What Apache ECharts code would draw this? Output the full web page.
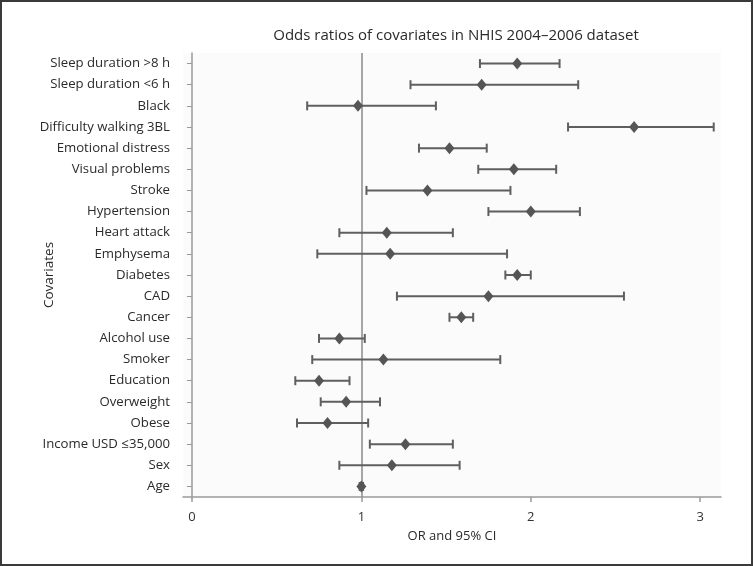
<!DOCTYPE html>
<html>
<head>
<meta charset="utf-8">
<script src="https://cdn.jsdelivr.net/npm/echarts@6/dist/echarts.min.js"></script>
<style>
html,body{margin:0;padding:0;background:#fff;}
#chart{width:753px;height:566px;}
</style>
</head>
<body>
<div id="chart"></div>
<script>
// Covariates, top to bottom
var categories = [
  "Sleep duration >8 h", "Sleep duration <6 h", "Black", "Difficulty walking 3BL",
  "Emotional distress", "Visual problems", "Stroke", "Hypertension", "Heart attack",
  "Emphysema", "Diabetes", "CAD", "Cancer", "Alcohol use", "Smoker", "Education",
  "Overweight", "Obese", "Income USD \u226435,000", "Sex", "Age"
];
var oddsRatio = [1.92, 1.71, 0.98, 2.61, 1.52, 1.90, 1.39, 2.00, 1.15, 1.17, 1.92, 1.75, 1.59, 0.87, 1.13, 0.75, 0.91, 0.80, 1.26, 1.18, 1.00];
var ciLow     = [1.70, 1.29, 0.68, 2.22, 1.34, 1.69, 1.03, 1.75, 0.87, 0.74, 1.85, 1.21, 1.52, 0.75, 0.71, 0.61, 0.76, 0.62, 1.05, 0.87, 0.99];
var ciHigh    = [2.17, 2.28, 1.44, 3.08, 1.74, 2.15, 1.88, 2.29, 1.54, 1.86, 2.00, 2.55, 1.66, 1.02, 1.82, 0.93, 1.11, 1.04, 1.54, 1.58, 1.01];
var xTicks = [0, 1, 2, 3];

var chart = echarts.init(document.getElementById('chart'));
var FONT = 'Open Sans';

var errData = categories.map(function (c, i) { return [i, ciLow[i], ciHigh[i]]; });
var ptData = categories.map(function (c, i) { return [oddsRatio[i], c]; });

chart.setOption({
  animation: false,
  textStyle: { fontFamily: FONT },
  title: {
    text: 'Odds ratios of covariates in NHIS 2004\u20132006 dataset',
    left: 451, top: 23, textAlign: 'center',
    textStyle: { fontFamily: FONT, fontSize: 15, fontWeight: 'normal', color: '#2a2a2a' }
  },
  graphic: [{
    type: 'rect', silent: true, z: 100,
    shape: { x: 1, y: 1, width: 751, height: 564 },
    style: { fill: 'none', stroke: '#3a3a3a', lineWidth: 2 }
  }],
  grid: {
    left: 183, right: 32, top: 53, bottom: 69,
    show: true, backgroundColor: '#fbfbfb', borderWidth: 0
  },
  xAxis: {
    type: 'value', min: -0.053, max: 3.123,
    name: 'OR and 95% CI', nameLocation: 'middle', nameGap: 33, nameMoveOverlap: false,
    nameTextStyle: { fontFamily: FONT, fontSize: 13, color: '#2a2a2a' },
    axisLine: { show: true, lineStyle: { color: '#9a9a9a', width: 1.5 } },
    axisTick: { show: true, length: 5, customValues: xTicks, lineStyle: { color: '#9a9a9a', width: 1.5 } },
    axisLabel: { customValues: xTicks, margin: 14, fontFamily: FONT, fontSize: 13, color: '#333' },
    splitLine: { show: false }
  },
  yAxis: {
    type: 'category', data: categories, inverse: true,
    name: 'Covariates', nameLocation: 'middle', nameGap: 127, nameRotate: 90, nameMoveOverlap: false,
    nameTextStyle: { fontFamily: FONT, fontSize: 13.5, color: '#2a2a2a' },
    axisLine: { show: true, lineStyle: { color: '#9a9a9a', width: 1.5 } },
    axisTick: { show: true, alignWithLabel: true, length: 5, lineStyle: { color: '#9a9a9a', width: 1 } },
    axisLabel: { margin: 13, fontFamily: FONT, fontSize: 13.2, color: '#2a2a2a' },
    splitLine: { show: false }
  },
  series: [{
    type: 'custom',
    data: errData,
    encode: { x: [1, 2], y: 0 },
    renderItem: function (params, api) {
      var idx = api.value(0);
      var lo = api.coord([api.value(1), idx]);
      var hi = api.coord([api.value(2), idx]);
      var h = 4.5;
      var st = { stroke: '#5f5f5f', lineWidth: 2, fill: null };
      return {
        type: 'group',
        children: [
          { type: 'line', shape: { x1: lo[0], y1: lo[1], x2: hi[0], y2: hi[1] }, style: st },
          { type: 'line', shape: { x1: lo[0], y1: lo[1] - h, x2: lo[0], y2: lo[1] + h }, style: st },
          { type: 'line', shape: { x1: hi[0], y1: hi[1] - h, x2: hi[0], y2: hi[1] + h }, style: st }
        ]
      };
    },
    z: 3
  }, {
    type: 'scatter',
    data: ptData,
    symbol: 'diamond',
    symbolSize: [10, 12],
    itemStyle: { color: '#555555', opacity: 1 },
    z: 4,
    markLine: {
      silent: true, symbol: 'none', label: { show: false },
      lineStyle: { color: '#8a8a8a', width: 1.5, type: 'solid' },
      data: [{ xAxis: 1 }],
      z: 2
    }
  }]
});
</script>
</body>
</html>
